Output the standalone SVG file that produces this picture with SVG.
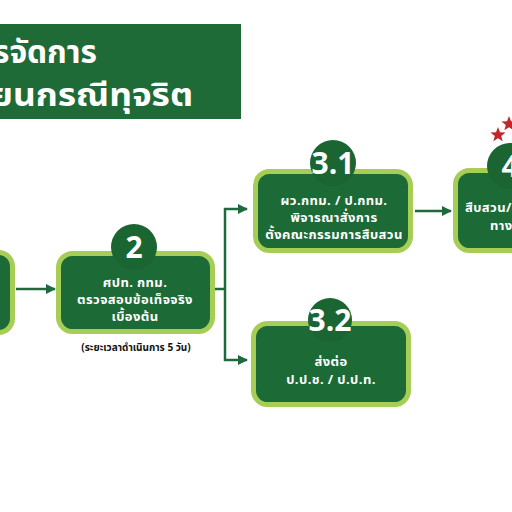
<svg xmlns="http://www.w3.org/2000/svg" width="512" height="512" viewBox="0 0 512 512">
<defs>
<marker id="ah" viewBox="0 0 10 10" refX="9" refY="5" markerWidth="4" markerHeight="4" orient="auto" markerUnits="strokeWidth">
<path d="M0,0 L10,5 L0,10 z" fill="#1d6b3d"/>
</marker>
<style>
.box{fill:#1c6b36;stroke:#a6cd55;stroke-width:5}
.num{fill:#1a6532}
.t{font-family:"Noto Sans Thai","Noto Sans","Leelawadee UI",Tahoma,sans-serif;fill:#fff;font-weight:bold;text-anchor:middle}
.b{font-size:13px;letter-spacing:0.4px}
.n{font-family:"Open Sans","Liberation Sans",sans-serif;fill:#fff;font-weight:bold;text-anchor:middle;font-size:30px}
.c{fill:none;stroke:#1d6b3d;stroke-width:2.5}
.star{fill:#c0272d}
</style>
</defs>
<rect width="512" height="512" fill="#fff"/>
<g id="title">
<rect x="0" y="24" width="241" height="95" fill="#1f6b37"/>
<text class="t" x="-7" y="63" font-size="31" style="text-anchor:start" textLength="104" lengthAdjust="spacingAndGlyphs">รจัดการ</text>
<text class="t" x="-9" y="106" font-size="31" style="text-anchor:start" textLength="202" lengthAdjust="spacingAndGlyphs">ยนกรณีทุจริต</text>
</g>
<g id="connectors">
<line class="c" x1="16" y1="289" x2="55" y2="289" marker-end="url(#ah)"/>
<line class="c" x1="213" y1="289" x2="225" y2="289"/>
<line class="c" x1="225" y1="208" x2="225" y2="361"/>
<line class="c" x1="224" y1="209" x2="247" y2="209" marker-end="url(#ah)"/>
<line class="c" x1="224" y1="360" x2="247" y2="360" marker-end="url(#ah)"/>
<line class="c" x1="415" y1="211" x2="451" y2="211" marker-end="url(#ah)"/>
</g>
<g id="node1">
<rect class="box" x="-100" y="252.5" width="112.5" height="80" rx="14"/>
</g>
<g id="node2">
<rect class="box" x="58.5" y="253.5" width="154" height="78" rx="14"/>
<circle class="num" cx="134" cy="247" r="23"/>
<text class="n" x="134" y="258">2</text>
<text class="t b" x="135" y="287">ศปท. กทม.</text>
<text class="t b" x="135" y="304">ตรวจสอบข้อเท็จจริง</text>
<text class="t b" x="135" y="321">เบื้องต้น</text>
<text class="t" x="136" y="351" font-size="10" style="fill:#111">(ระยะเวลาดำเนินการ 5 วัน)</text>
</g>
<g id="node3-1">
<rect class="box" x="255.5" y="171.5" width="155" height="79" rx="14"/>
<circle class="num" cx="333" cy="163" r="23"/>
<text class="n" x="333" y="174">3.1</text>
<text class="t b" x="334" y="205">ผว.กทม. / ป.กทม.</text>
<text class="t b" x="334" y="222">พิจารณาสั่งการ</text>
<text class="t b" x="334" y="239">ตั้งคณะกรรมการสืบสวน</text>
</g>
<g id="node3-2">
<rect class="box" x="253.5" y="323.5" width="155" height="81" rx="14"/>
<circle class="num" cx="330" cy="320" r="22"/>
<text class="n" x="330" y="331">3.2</text>
<text class="t b" x="331" y="366">ส่งต่อ</text>
<text class="t b" x="331" y="384">ป.ป.ช. / ป.ป.ท.</text>
</g>
<g id="node4">
<rect class="box" x="455.5" y="170.5" width="120" height="80" rx="14"/>
<circle class="num" cx="510" cy="166" r="23"/>
<text class="n" x="510" y="177">4</text>
<text class="t b" x="465" y="212" style="text-anchor:start">สืบสวน/</text>
<text class="t b" x="490" y="230" style="text-anchor:start">ทาง</text>
<polygon class="star" points="498,127 500,132.3 505.6,132.5 501.2,135.9 502.7,141.3 498,138.2 493.3,141.3 494.8,135.9 490.4,132.5 496,132.3"/>
<polygon class="star" points="509,116 511,121.3 516.6,121.5 512.2,124.9 513.7,130.3 509,127.2 504.3,130.3 505.8,124.9 501.4,121.5 507,121.3"/>
</g>
</svg>
